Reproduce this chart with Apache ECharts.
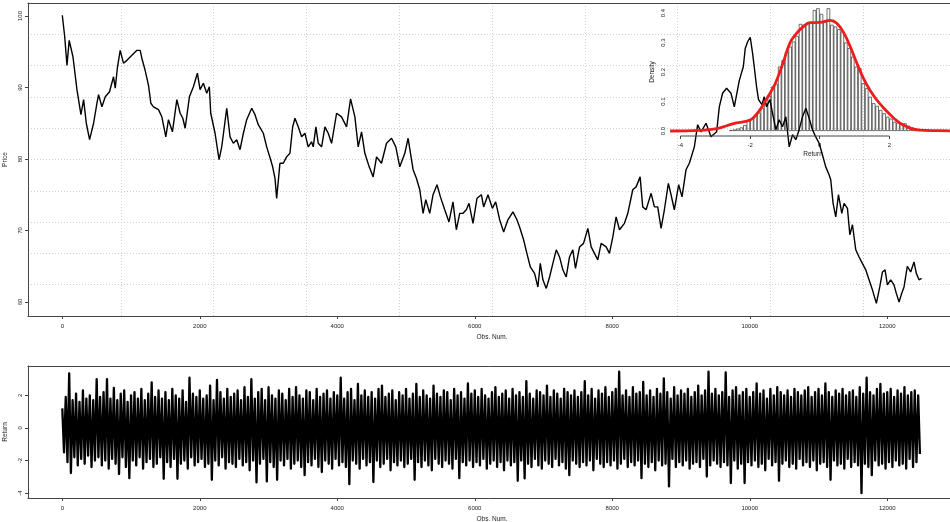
<!DOCTYPE html>
<html>
<head>
<meta charset="utf-8">
<script src="https://cdn.jsdelivr.net/npm/echarts@6/dist/echarts.min.js"></script>
<style>
  html, body { margin: 0; padding: 0; background: #fff; }
  #chart { width: 950px; height: 522px; }
</style>
</head>
<body>
<div id="chart"></div>
<script>
// price path (obs number, price)
const obsIdx = [0, 35, 68, 100, 155, 213, 271, 310, 349, 397, 455, 504, 527, 576, 625, 687, 745, 770, 803, 842,
  890, 940, 1012, 1085, 1133, 1157, 1205, 1254, 1288, 1326, 1399, 1448, 1506, 1544, 1602, 1666, 1714, 1753, 1787, 1849,
  1907, 1965, 2004, 2052, 2101, 2139, 2159, 2222, 2280, 2319, 2392, 2440, 2488, 2537, 2585, 2634, 2682, 2755, 2803, 2851,
  2924, 2973, 3031, 3060, 3094, 3118, 3166, 3214, 3263, 3311, 3351, 3384, 3432, 3481, 3529, 3577, 3626, 3650, 3689, 3723,
  3772, 3820, 3868, 3917, 3990, 4062, 4135, 4193, 4256, 4304, 4353, 4401, 4464, 4522, 4571, 4643, 4716, 4789, 4851, 4909,
  4982, 5030, 5103, 5151, 5200, 5248, 5287, 5345, 5393, 5451, 5500, 5563, 5625, 5683, 5732, 5781, 5829, 5877, 5916, 5974,
  6032, 6096, 6129, 6192, 6256, 6304, 6362, 6420, 6482, 6555, 6613, 6652, 6710, 6758, 6808, 6870, 6918, 6953, 6991, 7040,
  7088, 7136, 7185, 7233, 7281, 7330, 7378, 7426, 7465, 7524, 7582, 7645, 7693, 7741, 7789, 7838, 7911, 7959, 8008, 8056,
  8105, 8177, 8226, 8298, 8347, 8405, 8443, 8492, 8565, 8613, 8661, 8710, 8758, 8816, 8855, 8903, 8966, 9015, 9073, 9121,
  9194, 9242, 9291, 9364, 9436, 9518, 9557, 9605, 9663, 9727, 9775, 9848, 9906, 9935, 9969, 10007, 10041, 10065, 10099, 10128,
  10177, 10211, 10244, 10293, 10331, 10380, 10428, 10476, 10525, 10574, 10622, 10670, 10719, 10767, 10816, 10864, 10912, 10960, 11009, 11057,
  11105, 11154, 11178, 11212, 11251, 11290, 11339, 11372, 11421, 11456, 11494, 11542, 11590, 11638, 11687, 11735, 11784, 11842, 11891, 11930,
  11968, 12002, 12050, 12098, 12132, 12172, 12210, 12244, 12292, 12341, 12389, 12423, 12462, 12499]
const price = [100.1, 97.1, 93.1, 96.6, 94.3, 89.7, 86.2, 88.3, 85.0, 82.7, 85.0, 87.8, 89.0, 87.3, 88.7, 89.4, 91.5, 89.9, 92.9, 95.2,
  93.4, 93.8, 94.5, 95.2, 95.2, 94.1, 92.4, 90.3, 87.8, 87.3, 86.9, 85.9, 83.1, 85.5, 83.8, 88.3, 86.4, 85.7, 84.3, 88.7,
  90.1, 92.0, 89.7, 90.6, 89.2, 90.1, 86.4, 83.6, 79.9, 81.7, 87.1, 83.1, 82.2, 82.7, 81.3, 83.6, 85.5, 87.1, 86.2, 84.8,
  83.6, 81.7, 79.9, 78.9, 77.3, 74.5, 79.4, 79.4, 80.3, 80.8, 84.5, 85.7, 84.5, 83.1, 83.6, 81.7, 82.4, 81.7, 84.5, 82.2,
  81.7, 84.5, 83.6, 82.2, 86.4, 85.9, 84.5, 88.4, 85.9, 81.7, 83.8, 80.8, 78.9, 77.5, 80.3, 79.4, 82.2, 82.9, 81.7, 78.9,
  80.8, 82.9, 78.5, 77.3, 75.7, 72.4, 74.3, 72.4, 75.0, 76.4, 74.7, 72.9, 71.2, 74.0, 70.1, 72.4, 72.4, 72.9, 73.8, 71.0,
  74.5, 75.0, 73.3, 75.0, 73.1, 74.0, 71.5, 69.8, 71.5, 72.6, 71.5, 70.5, 68.7, 66.8, 64.9, 64.0, 62.1, 65.4, 63.1, 61.9,
  63.5, 65.4, 67.3, 66.3, 64.5, 63.5, 66.3, 67.3, 64.7, 67.7, 68.2, 70.3, 67.7, 66.8, 65.9, 68.2, 67.7, 66.8, 69.1, 71.9,
  70.1, 71.0, 72.4, 75.7, 76.1, 77.5, 73.3, 72.9, 75.2, 73.3, 73.3, 70.3, 72.9, 76.6, 75.0, 72.9, 76.4, 74.7, 78.5, 79.4,
  81.7, 84.8, 83.8, 85.0, 83.1, 83.8, 87.3, 89.2, 89.9, 89.2, 87.3, 91.0, 92.9, 95.5, 96.4, 97.0, 94.8, 92.9, 90.1, 88.3,
  87.6, 88.7, 87.3, 88.3, 86.4, 84.1, 85.5, 84.5, 85.9, 81.7, 83.4, 82.7, 84.1, 85.9, 87.1, 85.7, 84.1, 83.1, 82.2, 80.6,
  78.9, 77.8, 77.1, 73.8, 71.9, 75.0, 72.4, 73.8, 73.1, 69.4, 70.8, 67.3, 66.3, 65.4, 64.5, 63.1, 61.7, 59.8, 62.1, 64.2,
  64.5, 62.4, 63.1, 62.4, 61.2, 60.0, 61.2, 62.1, 65.0, 64.2, 65.6, 64.0, 63.1, 63.3]

// returns: upper and lower swings, one pair per 50 observations
const retHigh = [1.2, 1.9, 3.35, 1.7, 2.1, 1.6, 2.3, 1.8, 2.0, 1.7,
  3.0, 1.9, 2.2, 3.0, 1.8, 2.45, 1.7, 2.1, 2.3, 1.6,
  2.0, 2.2, 1.8, 2.4, 1.7, 2.1, 2.8, 1.9, 2.3, 1.8,
  2.2, 1.7, 2.4, 2.0, 1.8, 2.3, 1.6, 3.08, 2.1, 1.9,
  2.3, 1.8, 2.0, 2.6, 1.7, 2.94, 2.2, 1.8, 2.4, 1.9,
  2.1, 2.3, 1.7, 2.5, 1.9, 3.0, 1.8, 2.2, 2.4, 1.7,
  2.5, 2.0, 1.8, 2.3, 2.1, 1.7, 2.4, 1.9, 2.5, 2.0,
  1.8, 2.3, 2.2, 1.7, 2.4, 1.9, 2.1, 2.3, 1.8, 2.2,
  2.0, 3.08, 1.8, 2.2, 2.4, 1.7, 2.7, 2.0, 2.3, 1.9,
  2.2, 1.8, 2.4, 2.6, 1.9, 2.1, 2.3, 1.7, 2.2, 2.0,
  2.4, 1.8, 2.1, 2.7, 1.9, 2.3, 2.0, 1.8, 2.6, 2.1,
  1.9, 2.3, 2.2, 1.7, 2.4, 2.0, 2.2, 1.8, 2.73, 2.1,
  2.3, 1.9, 2.4, 2.0, 1.8, 2.2, 2.5, 1.9, 2.1, 2.3,
  1.8, 2.4, 2.0, 2.2, 1.9, 2.87, 2.1, 1.8, 2.3, 2.2,
  2.0, 2.6, 1.9, 2.3, 2.1, 1.8, 2.4, 2.2, 2.0, 2.3,
  1.9, 2.2, 2.87, 2.0, 2.4, 1.8, 2.3, 2.1, 2.5, 1.9,
  2.2, 2.4, 3.45, 2.0, 2.3, 1.9, 2.5, 2.1, 2.2, 2.83,
  2.0, 2.3, 1.9, 2.4, 2.1, 3.04, 2.2, 1.8, 2.5, 2.0,
  2.3, 2.1, 2.4, 1.9, 2.2, 2.6, 2.0, 2.3, 3.45, 2.1,
  2.4, 2.0, 2.2, 3.4, 1.9, 2.3, 2.5, 2.0, 2.2, 2.4,
  1.9, 2.2, 2.73, 2.1, 2.3, 1.8, 2.4, 2.0, 2.5, 2.2,
  2.0, 2.3, 1.9, 2.4, 2.2, 2.0, 2.3, 2.5, 1.9, 2.2,
  2.4, 2.0, 2.73, 2.2, 1.9, 2.3, 2.1, 2.4, 2.0, 2.2,
  2.3, 1.9, 2.5, 2.1, 3.08, 2.2, 2.0, 2.4, 2.7, 2.1,
  2.2, 2.4, 1.9, 2.3, 2.1, 2.5, 2.0, 2.2, 2.3, 2.0]
const retLow = [-1.5, -2.1, -2.77, -1.8, -2.3, -1.9, -2.2, -1.7, -2.4, -2.0,
  -1.8, -2.3, -2.0, -2.5, -1.9, -2.2, -2.83, -1.8, -2.4, -3.08,
  -2.0, -2.3, -1.8, -2.5, -2.1, -1.9, -2.4, -2.2, -1.8, -3.12,
  -2.1, -2.4, -1.9, -3.12, -2.2, -2.0, -2.5, -1.8, -2.3, -2.1,
  -1.9, -2.4, -2.2, -3.18, -2.0, -2.3, -1.8, -2.5, -2.1, -2.2,
  -2.4, -1.9, -2.3, -2.1, -2.6, -2.0, -3.34, -2.2, -1.9, -3.28,
  -2.1, -2.4, -3.18, -2.0, -2.3, -1.9, -2.5, -2.2, -2.0, -2.4,
  -2.9, -2.1, -2.3, -1.9, -2.4, -2.71, -2.0, -2.2, -2.5, -1.9,
  -2.3, -2.1, -2.4, -3.45, -2.0, -2.2, -2.5, -1.9, -2.3, -2.1,
  -3.32, -2.0, -2.4, -2.2, -1.9, -2.6, -2.1, -2.3, -2.0, -2.4,
  -2.2, -1.9, -3.18, -2.1, -2.4, -2.0, -2.3, -2.6, -1.9, -2.2,
  -2.4, -2.0, -2.2, -2.5, -1.9, -3.08, -2.1, -2.3, -2.0, -2.4,
  -2.1, -2.3, -1.9, -2.5, -2.2, -2.0, -2.4, -2.1, -2.6, -2.0,
  -2.3, -2.1, -3.24, -2.0, -3.1, -2.2, -2.4, -1.9, -2.3, -2.5,
  -2.0, -2.2, -2.4, -1.9, -2.3, -2.1, -2.5, -2.9, -2.0, -2.2,
  -2.4, -2.1, -2.3, -2.0, -2.6, -1.9, -2.2, -2.4, -2.1, -2.3,
  -2.0, -2.5, -2.2, -1.9, -2.4, -2.1, -2.3, -2.0, -3.08, -2.2,
  -2.4, -2.1, -2.6, -2.0, -2.3, -2.2, -3.59, -1.9, -2.4, -2.1,
  -2.3, -2.0, -2.5, -2.2, -2.1, -2.4, -1.9, -2.98, -2.3, -2.0,
  -2.2, -2.4, -2.1, -2.3, -3.38, -2.0, -2.5, -2.2, -3.38, -2.1,
  -2.3, -2.0, -2.4, -2.2, -2.6, -1.9, -2.3, -2.1, -3.24, -2.2,
  -2.0, -2.4, -2.2, -2.5, -1.9, -2.3, -2.1, -2.4, -2.0, -2.6,
  -2.2, -2.1, -2.4, -3.18, -2.0, -2.3, -2.2, -2.5, -1.9, -2.4,
  -2.1, -2.3, -4.0, -2.2, -2.4, -2.9, -2.0, -2.3, -2.2, -2.5,
  -2.1, -2.4, -2.0, -2.3, -2.2, -2.5, -1.9, -2.4, -2.1, -1.6]
const retStep = 50

// inset histogram of returns (bin mids, width 0.1) and density curve
const histMid = [-2.55, -2.45, -2.35, -2.25, -2.15, -2.05, -1.95, -1.85, -1.75, -1.65,
  -1.55, -1.45, -1.35, -1.25, -1.15, -1.05, -0.95, -0.85, -0.75, -0.65,
  -0.55, -0.45, -0.35, -0.25, -0.15, -0.05, 0.05, 0.15, 0.25, 0.35,
  0.45, 0.55, 0.65, 0.75, 0.85, 0.95, 1.05, 1.15, 1.25, 1.35,
  1.45, 1.55, 1.65, 1.75, 1.85, 1.95, 2.05, 2.15, 2.25, 2.35,
  2.45, 2.55, 2.65, 2.75, 2.85, 2.95, 3.05, 3.15]
const histDensity = [0.003, 0.005, 0.008, 0.012, 0.02, 0.035, 0.04, 0.05, 0.062, 0.078,
  0.095, 0.12, 0.15, 0.16, 0.218, 0.24, 0.269, 0.286, 0.303, 0.322,
  0.363, 0.36, 0.365, 0.367, 0.41, 0.416, 0.397, 0.37, 0.416, 0.36,
  0.354, 0.345, 0.337, 0.30, 0.281, 0.252, 0.218, 0.213, 0.162, 0.145,
  0.116, 0.094, 0.085, 0.071, 0.06, 0.048, 0.042, 0.031, 0.028, 0.024,
  0.026, 0.018, 0.012, 0.007, 0.005, 0.003, 0.002, 0.001]
const curveX = [-4.30, -3.44, -2.96, -2.48, -2.00, -1.76, -1.52, -1.28, -1.05, -0.85, -0.66, -0.47, -0.28,
  0.01, 0.30, 0.49, 0.68, 0.87, 1.06, 1.25, 1.45, 1.64, 1.83, 2.02, 2.21, 2.40, 2.59, 2.88, 3.40, 3.92]
const curveY = [0.000, 0.002, 0.008, 0.025, 0.037, 0.065, 0.110, 0.160, 0.232, 0.300, 0.332, 0.354, 0.367,
  0.368, 0.375, 0.365, 0.335, 0.288, 0.232, 0.180, 0.137, 0.105, 0.079, 0.056, 0.035, 0.020, 0.010, 0.003, 0.001, 0.000]

const obsTicks = [0, 2000, 4000, 6000, 8000, 10000, 12000]
const priceTicks = [60, 70, 80, 90, 100]
const returnTicks = [-4, -2, 0, 2]
const insetTicks = [-4, -2, 0, 2]
const densityTicks = [0, 0.1, 0.2, 0.3, 0.4]

const FONT = 'Liberation Sans'
const axisCol = '#444'
const txt = { fontSize: 6, color: '#222', fontFamily: FONT }
const nameTxt = { fontSize: 6.5, color: '#222', fontFamily: FONT }
const gridLine = { show: true, lineStyle: { color: '#d0d0d0', type: [1, 2], width: 1 } }
const plain = (v) => String(v)

const retData = []
retHigh.forEach((h, i) => {
  retData.push([i * retStep, h])
  retData.push([i * retStep + retStep / 2, retLow[i]])
})

function obsAxis(gridIndex) {
  return {
    type: 'value', gridIndex, min: -499, max: 13000,
    axisLine: { show: true, onZero: false, lineStyle: { color: axisCol, width: 1 } },
    axisTick: { show: true, length: 3, customValues: obsTicks, lineStyle: { color: axisCol } },
    axisLabel: { ...txt, margin: 7, customValues: obsTicks, formatter: plain },
    splitLine: { show: false },
    name: 'Obs. Num.', nameLocation: 'middle', nameGap: 18, nameTextStyle: nameTxt
  }
}
function boxTop(gridIndex, withGrid) {
  return {
    type: 'value', gridIndex, min: 0, max: 10, interval: 1, position: 'top',
    axisLine: { show: true, onZero: false, lineStyle: { color: axisCol, width: 1 } },
    axisTick: { show: false }, axisLabel: { show: false },
    splitLine: withGrid ? gridLine : { show: false }
  }
}

const chart = echarts.init(document.getElementById('chart'), null, { renderer: 'canvas' })
chart.setOption({
  animation: false,
  backgroundColor: '#fff',
  grid: [
    { left: 28, top: 3, right: -6, height: 313, outerBoundsMode: 'none', containLabel: false },
    { left: 28, top: 366, right: -6, height: 132, outerBoundsMode: 'none', containLabel: false },
    { left: 670, top: 8, right: -6, height: 128, outerBoundsMode: 'none', containLabel: false }
  ],
  xAxis: [
    obsAxis(0),
    boxTop(0, true),
    obsAxis(1),
    boxTop(1, false),
    {
      type: 'value', gridIndex: 2, min: -4.302, max: 3.916,
      axisLine: { show: false, onZero: false },
      axisTick: { show: true, length: 3, customValues: insetTicks, lineStyle: { color: axisCol } },
      axisLabel: { ...txt, margin: 6, customValues: insetTicks, formatter: plain },
      splitLine: { show: false },
      name: 'Return', nameLocation: 'middle', nameGap: 15, nameTextStyle: nameTxt
    }
  ],
  yAxis: [
    {
      type: 'value', gridIndex: 0, min: 58.04, max: 101.82,
      axisLine: { show: true, onZero: false, lineStyle: { color: axisCol, width: 1 } },
      axisTick: { show: true, length: 3, customValues: priceTicks, lineStyle: { color: axisCol } },
      axisLabel: { ...txt, rotate: 90, margin: 5, customValues: priceTicks },
      splitLine: { show: false },
      name: 'Price', nameLocation: 'middle', nameRotate: 90, nameGap: 14, nameTextStyle: nameTxt
    },
    {
      type: 'value', gridIndex: 0, min: 0, max: 10, interval: 1, position: 'right',
      axisLine: { show: false, onZero: false }, axisTick: { show: false }, axisLabel: { show: false },
      splitLine: gridLine
    },
    {
      type: 'value', gridIndex: 1, min: -4.3, max: 3.8,
      axisLine: { show: true, onZero: false, lineStyle: { color: axisCol, width: 1 } },
      axisTick: { show: true, length: 3, customValues: returnTicks, lineStyle: { color: axisCol } },
      axisLabel: { ...txt, rotate: 90, margin: 5, customValues: returnTicks },
      splitLine: { show: false },
      name: 'Return', nameLocation: 'middle', nameRotate: 90, nameGap: 14, nameTextStyle: nameTxt
    },
    {
      type: 'value', gridIndex: 2, min: -0.017, max: 0.4169,
      axisLine: { show: false, onZero: false },
      axisTick: { show: false, customValues: densityTicks },
      axisLabel: {
        ...txt, rotate: 90, margin: 4, customValues: densityTicks,
        formatter: (v) => v.toFixed(1)
      },
      splitLine: { show: false },
      name: 'Density', nameLocation: 'middle', nameRotate: 90, nameGap: 14, nameTextStyle: nameTxt
    }
  ],
  series: [
    {
      type: 'line', xAxisIndex: 0, yAxisIndex: 0, symbol: 'none',
      data: obsIdx.map((o, i) => [o, price[i]]),
      lineStyle: { color: '#000', width: 1.4 }
    },
    {
      type: 'line', xAxisIndex: 2, yAxisIndex: 2, symbol: 'none',
      data: retData,
      lineStyle: { color: '#000', width: 2.3, join: 'round' }
    },
    {
      // inset x axis line, drawn from the first to the last tick like R does
      type: 'line', xAxisIndex: 4, yAxisIndex: 3, symbol: 'none', clip: false, silent: true,
      data: [[insetTicks[0], -0.017], [insetTicks[insetTicks.length - 1], -0.017]],
      lineStyle: { color: axisCol, width: 1 }
    },
    {
      type: 'bar', xAxisIndex: 4, yAxisIndex: 3, barWidth: 3.48,
      data: histMid.map((m, i) => [m, histDensity[i]]),
      itemStyle: { color: 'rgba(255,255,255,0)', borderColor: '#333', borderWidth: 0.7 }
    },
    {
      type: 'line', xAxisIndex: 4, yAxisIndex: 3, symbol: 'none', smooth: 0.4,
      data: curveX.map((x, i) => [x, curveY[i]]),
      lineStyle: { color: '#ee1c1c', width: 2.8 }
    }
  ]
})
</script>
</body>
</html>
